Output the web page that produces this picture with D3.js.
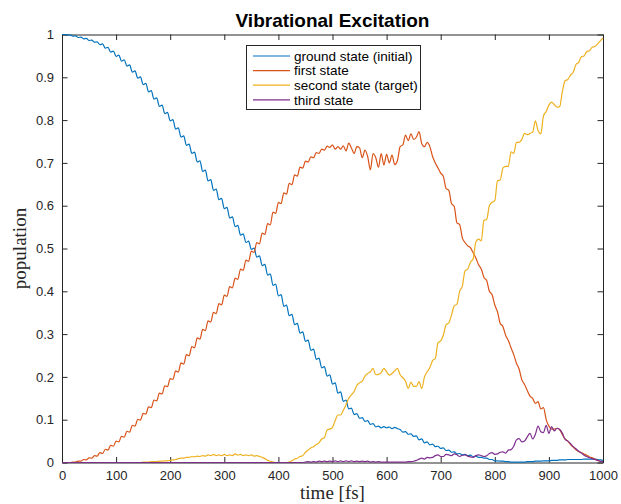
<!DOCTYPE html>
<html>
<head>
<meta charset="utf-8">
<script src="https://cdn.jsdelivr.net/npm/d3@7"></script>
<style>
  html, body { margin: 0; padding: 0; background: #fff; }
  svg { display: block; }
</style>
</head>
<body>
<svg id="chart" width="621" height="504"></svg>
<script>
// Sampling grid of the simulation output (fs), one sample every 5 fs
const timeFs = d3.range(0, 1001, 5);

// Populations of the vibrational levels on that grid
const groundState = [
  1.000,1.000,0.999,0.999,0.996,0.997,0.993,0.994,0.990,0.991,0.986,0.987,0.982,0.983,0.976,0.978,0.968,0.970,0.959,0.961,
  0.949,0.952,0.938,0.941,0.926,0.929,0.912,0.915,0.898,0.901,0.883,0.886,0.866,0.869,0.849,0.852,0.832,0.835,0.815,0.818,
  0.798,0.801,0.779,0.782,0.760,0.763,0.741,0.744,0.722,0.725,0.702,0.705,0.680,0.683,0.658,0.661,0.636,0.639,0.614,0.617,
  0.593,0.596,0.571,0.574,0.551,0.554,0.531,0.534,0.514,0.517,0.498,0.501,0.480,0.483,0.460,0.463,0.438,0.441,0.414,0.417,
  0.389,0.392,0.365,0.368,0.343,0.346,0.322,0.325,0.302,0.305,0.283,0.286,0.262,0.265,0.241,0.244,0.221,0.224,0.202,0.205,
  0.183,0.186,0.162,0.165,0.143,0.146,0.125,0.127,0.112,0.114,0.103,0.105,0.096,0.098,0.089,0.091,0.083,0.085,0.081,0.084,
  0.081,0.083,0.079,0.082,0.079,0.077,0.071,0.072,0.066,0.067,0.061,0.062,0.053,0.055,0.046,0.048,0.041,0.043,0.037,0.038,
  0.033,0.034,0.028,0.029,0.024,0.025,0.020,0.021,0.018,0.019,0.016,0.017,0.014,0.015,0.012,0.012,0.010,0.010,0.007,0.007,
  0.004,0.004,0.003,0.003,0.002,0.002,0.001,0.001,0.001,0.001,0.001,0.001,0.002,0.002,0.002,0.003,0.003,0.003,0.004,0.004,
  0.004,0.005,0.005,0.005,0.006,0.006,0.006,0.007,0.007,0.007,0.007,0.007,0.007,0.008,0.008,0.008,0.008,0.008,0.007,0.006,
  0.005
];
const firstState = [
  0.000,0.000,0.000,0.000,0.001,0.001,0.003,0.003,0.007,0.006,0.011,0.010,0.016,0.015,0.023,0.021,0.031,0.029,0.040,0.038,
  0.050,0.048,0.061,0.059,0.073,0.071,0.087,0.085,0.101,0.099,0.115,0.113,0.130,0.128,0.146,0.144,0.162,0.160,0.179,0.177,
  0.196,0.194,0.214,0.211,0.233,0.230,0.252,0.249,0.271,0.268,0.291,0.288,0.311,0.308,0.331,0.328,0.351,0.348,0.371,0.368,
  0.391,0.388,0.411,0.408,0.431,0.428,0.452,0.449,0.473,0.470,0.494,0.491,0.514,0.511,0.536,0.533,0.558,0.555,0.585,0.582,
  0.608,0.605,0.630,0.627,0.652,0.649,0.672,0.669,0.690,0.688,0.704,0.702,0.714,0.712,0.724,0.722,0.732,0.730,0.739,0.736,
  0.742,0.732,0.738,0.732,0.740,0.728,0.746,0.735,0.722,0.738,0.735,0.712,0.730,0.715,0.684,0.722,0.712,0.690,0.722,0.695,
  0.720,0.700,0.718,0.696,0.705,0.738,0.742,0.765,0.752,0.768,0.755,0.760,0.773,0.745,0.738,0.748,0.738,0.715,0.700,0.688,
  0.676,0.668,0.640,0.636,0.605,0.598,0.560,0.556,0.525,0.514,0.506,0.502,0.490,0.478,0.462,0.452,0.432,0.425,0.400,0.392,
  0.368,0.352,0.325,0.318,0.297,0.285,0.268,0.252,0.232,0.218,0.193,0.182,0.168,0.155,0.150,0.138,0.142,0.125,0.128,0.100,
  0.085,0.078,0.078,0.080,0.076,0.065,0.055,0.050,0.042,0.036,0.030,0.026,0.023,0.020,0.017,0.013,0.011,0.008,0.005,0.003,
  0.002
];
const secondState = [
  0.000,0.000,0.000,0.000,0.000,0.000,0.000,0.000,0.000,0.000,0.000,0.000,0.000,0.000,0.000,0.000,0.000,0.000,0.000,0.000,
  0.000,0.000,0.000,0.000,0.000,0.000,0.000,0.000,0.000,0.000,0.001,0.001,0.001,0.002,0.002,0.002,0.003,0.003,0.004,0.004,
  0.005,0.006,0.007,0.009,0.010,0.010,0.012,0.012,0.014,0.013,0.015,0.014,0.016,0.015,0.018,0.016,0.019,0.016,0.018,0.016,
  0.019,0.016,0.018,0.016,0.020,0.017,0.019,0.016,0.018,0.016,0.018,0.015,0.016,0.014,0.012,0.009,0.005,0.003,0.001,0.000,
  0.000,0.000,0.000,0.000,0.001,0.004,0.008,0.010,0.014,0.016,0.024,0.029,0.034,0.037,0.042,0.046,0.055,0.058,0.076,0.078,
  0.082,0.098,0.111,0.111,0.122,0.135,0.150,0.158,0.166,0.180,0.186,0.190,0.202,0.208,0.212,0.220,0.205,0.206,0.210,0.220,
  0.212,0.204,0.208,0.214,0.220,0.205,0.198,0.190,0.173,0.188,0.178,0.178,0.189,0.173,0.200,0.212,0.222,0.238,0.243,0.280,
  0.284,0.298,0.322,0.326,0.345,0.366,0.370,0.400,0.412,0.448,0.452,0.468,0.476,0.515,0.522,0.518,0.566,0.568,0.600,0.608,
  0.612,0.658,0.660,0.688,0.692,0.692,0.726,0.722,0.748,0.748,0.755,0.769,0.766,0.769,0.772,0.798,0.775,0.768,0.810,0.820,
  0.835,0.842,0.836,0.830,0.832,0.868,0.892,0.895,0.905,0.912,0.930,0.935,0.948,0.950,0.960,0.962,0.970,0.972,0.978,0.985,
  0.992
];
const thirdState = [
  0.000,0.000,0.000,0.000,0.000,0.000,0.000,0.000,0.000,0.000,0.000,0.000,0.000,0.000,0.000,0.000,0.000,0.000,0.000,0.000,
  0.000,0.000,0.000,0.000,0.000,0.000,0.000,0.000,0.000,0.000,0.000,0.000,0.000,0.000,0.000,0.000,0.000,0.000,0.000,0.000,
  0.000,0.000,0.000,0.000,0.000,0.000,0.000,0.000,0.000,0.000,0.000,0.000,0.000,0.000,0.000,0.000,0.000,0.000,0.000,0.000,
  0.000,0.000,0.000,0.000,0.000,0.000,0.000,0.000,0.000,0.000,0.000,0.000,0.000,0.000,0.000,0.000,0.000,0.000,0.000,0.000,
  0.000,0.000,0.000,0.000,0.000,0.000,0.000,0.000,0.000,0.000,0.001,0.002,0.001,0.002,0.001,0.003,0.002,0.003,0.002,0.003,
  0.002,0.004,0.002,0.004,0.002,0.004,0.002,0.004,0.002,0.003,0.002,0.003,0.002,0.003,0.001,0.002,0.001,0.002,0.001,0.001,
  0.001,0.001,0.001,0.001,0.001,0.001,0.001,0.001,0.002,0.002,0.003,0.005,0.008,0.010,0.008,0.012,0.011,0.012,0.016,0.018,
  0.014,0.014,0.019,0.018,0.016,0.020,0.018,0.014,0.017,0.018,0.015,0.013,0.012,0.016,0.018,0.016,0.014,0.016,0.021,0.023,
  0.019,0.020,0.024,0.025,0.022,0.029,0.030,0.038,0.053,0.056,0.048,0.050,0.060,0.068,0.055,0.066,0.085,0.072,0.070,0.087,
  0.068,0.084,0.074,0.080,0.077,0.068,0.054,0.050,0.044,0.037,0.032,0.026,0.022,0.017,0.014,0.011,0.009,0.007,0.005,0.003,
  0.001
];

const seriesNames = ["ground state (initial)", "first state", "second state (target)", "third state"];
const seriesColors = ["#0072BD", "#D95319", "#EDB120", "#7E2F8E"];
const xTicks = [0, 100, 200, 300, 400, 500, 600, 700, 800, 900, 1000];
const yTicks = [0, 0.1, 0.2, 0.3, 0.4, 0.5, 0.6, 0.7, 0.8, 0.9, 1];
const yTickLabels = ["0", "0.1", "0.2", "0.3", "0.4", "0.5", "0.6", "0.7", "0.8", "0.9", "1"];

const seriesValues = [groundState, firstState, secondState, thirdState];

const svg = d3.select("#chart");
const plot = { left: 62, right: 603, top: 34.5, bottom: 462.5 };
const axisColor = "#262626";
const font = "'Liberation Sans', Arial, Helvetica, sans-serif";

const x = d3.scaleLinear().domain([0, 1000]).range([plot.left, plot.right]);
const y = d3.scaleLinear().domain([0, 1]).range([plot.bottom, plot.top]);

// Axes box with inward ticks on all four sides
function styleAxis(g) {
  g.select(".domain").attr("stroke", axisColor).attr("stroke-width", 1);
  g.selectAll(".tick line").attr("stroke", axisColor).attr("stroke-width", 1);
  g.selectAll(".tick text")
    .attr("fill", axisColor)
    .style("font-family", font)
    .style("font-size", "13px");
}

svg.append("g")
  .attr("transform", `translate(0,${plot.bottom})`)
  .call(d3.axisBottom(x).tickValues(xTicks).tickSizeInner(-5.5).tickSizeOuter(0).tickPadding(8.5).tickFormat(d3.format("d")))
  .call(styleAxis);

svg.append("g")
  .attr("transform", `translate(0,${plot.top})`)
  .call(d3.axisTop(x).tickValues(xTicks).tickSizeInner(-5.5).tickSizeOuter(0).tickFormat(""))
  .call(styleAxis);

svg.append("g")
  .attr("transform", `translate(${plot.left},0)`)
  .call(d3.axisLeft(y).tickValues(yTicks).tickSizeInner(-5.5).tickSizeOuter(0).tickPadding(8)
    .tickFormat((d, i) => yTickLabels[i]))
  .call(styleAxis);

svg.append("g")
  .attr("transform", `translate(${plot.right},0)`)
  .call(d3.axisRight(y).tickValues(yTicks).tickSizeInner(-5.5).tickSizeOuter(0).tickFormat(""))
  .call(styleAxis);

// Population curves
const line = d3.line()
  .x((d, i) => x(timeFs[i]))
  .y(d => y(d))
  .curve(d3.curveMonotoneX);

svg.append("g")
  .selectAll("path")
  .data(seriesValues)
  .join("path")
  .attr("d", d => line(d))
  .attr("fill", "none")
  .attr("stroke", (d, i) => seriesColors[i])
  .attr("stroke-width", 1.2)
  .attr("stroke-linejoin", "round");

// Title and axis labels
svg.append("text")
  .attr("x", (plot.left + plot.right) / 2)
  .attr("y", 27)
  .attr("text-anchor", "middle")
  .style("font-family", font)
  .style("font-size", "19px")
  .style("font-weight", "bold")
  .attr("fill", "#000")
  .text("Vibrational Excitation");

svg.append("text")
  .attr("x", (plot.left + plot.right) / 2)
  .attr("y", 499)
  .attr("text-anchor", "middle")
  .style("font-family", "'Liberation Serif', 'Times New Roman', serif")
  .style("font-size", "19px")
  .attr("fill", axisColor)
  .text("time [fs]");

svg.append("text")
  .attr("transform", `translate(26,${(plot.top + plot.bottom) / 2}) rotate(-90)`)
  .attr("text-anchor", "middle")
  .style("font-family", "'Liberation Serif', 'Times New Roman', serif")
  .style("font-size", "19px")
  .attr("fill", axisColor)
  .text("population");

// Legend
const legend = svg.append("g").attr("transform", "translate(246,45)");
legend.append("rect")
  .attr("x", 0.5).attr("y", 0.5)
  .attr("width", 174).attr("height", 64)
  .attr("fill", "#fff")
  .attr("stroke", axisColor)
  .attr("stroke-width", 1);

const entries = legend.selectAll("g.entry")
  .data(seriesNames)
  .join("g")
  .attr("class", "entry")
  .attr("transform", (d, i) => `translate(0,${11 + i * 14.6})`);

entries.append("line")
  .attr("x1", 7).attr("x2", 44)
  .attr("y1", 0).attr("y2", 0)
  .attr("stroke", (d, i) => seriesColors[i])
  .attr("stroke-width", 1.2);

entries.append("text")
  .attr("x", 48)
  .attr("y", 0)
  .attr("dy", "0.35em")
  .style("font-family", font)
  .style("font-size", "13.5px")
  .attr("fill", "#000")
  .text(d => d);
</script>
</body>
</html>
